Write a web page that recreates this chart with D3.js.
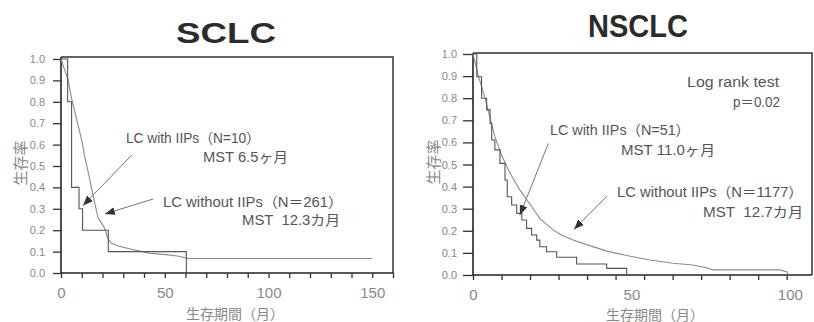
<!DOCTYPE html>
<html><head><meta charset="utf-8">
<script src="https://cdn.jsdelivr.net/npm/d3@7"></script>
<style>
html,body{margin:0;padding:0;background:#fff;}
svg{display:block;}
</style></head>
<body>
<script>
// ---------- data ----------
const panelTitles = ["SCLC", "NSCLC"];
const yTicks = [0, 0.1, 0.2, 0.3, 0.4, 0.5, 0.6, 0.7, 0.8, 0.9, 1.0];
const xMinorTicksSCLC = [0,10,20,30,40,50,60,70,80,90,100,110,120,130,140,150,160];
const xLabelTicksSCLC = [0, 50, 100, 150];
const xMinorTicksNSCLC = [0,9,18,27,36,45,54,63,72,81,90,99];
const xLabelTicksNSCLC = [0, 50, 100];
const yAxisTitle = "生存率";
const xAxisTitle = "生存期間（月）";

// SCLC: LC with IIPs (N=10) – step curve [month, survival]
const sclcWith = [[0,1.0],[3.2,0.8],[5.1,0.4],[8.7,0.3],[10.4,0.2],[22.8,0.1],[60.4,0.0]];
// SCLC: LC without IIPs (N=261)
const sclcWithout = [[0,1.0],[1,0.97],[3.5,0.9],[5,0.82],[7.5,0.72],[10,0.62],[11.5,0.54],[13.6,0.45],
  [15.5,0.36],[17.8,0.26],[21,0.21],[22.6,0.16],[24.2,0.14],[28,0.125],[34.5,0.11],[42.5,0.093],
  [50.6,0.086],[57,0.078],[61,0.068],[150,0.068]];
// NSCLC: LC with IIPs (N=51) – step curve
const nsclcWith = [[0,1.0],[1.2,0.897],[2.7,0.80],[4.3,0.747],[5.4,0.686],[5.9,0.611],[6.9,0.566],
  [8.5,0.505],[10.1,0.43],[10.8,0.354],[12.2,0.317],[13.8,0.279],[15.4,0.249],[16.9,0.211],
  [18.5,0.181],[20.1,0.158],[21.1,0.128],[23.2,0.105],[26.4,0.08],[32.7,0.05],[42.2,0.03],[48.5,0.0]];
// NSCLC: LC without IIPs (N=1177)
const nsclcWithout = [[0,1.0],[1.7,0.9],[3.8,0.8],[5.4,0.71],[6.9,0.626],[9.0,0.543],[11.7,0.46],
  [14.8,0.385],[18,0.32],[21.1,0.255],[25.3,0.204],[28,0.18],[31.6,0.158],[36.9,0.133],[42.2,0.108],
  [48.5,0.088],[55.8,0.068],[63.2,0.053],[69.5,0.045],[73.7,0.033],[75.8,0.023],[96.8,0.023],[99,0.015],[99.4,0.005]];

// annotation texts
const sclcNotes = ["LC with IIPs（N=10）", "MST 6.5ヶ月", "LC without IIPs（N＝261）", "MST  12.3カ月"];
const nsclcNotes = ["Log rank test", "p＝0.02", "LC with IIPs（N=51）", "MST 11.0ヶ月", "LC without IIPs（N＝1177）", "MST  12.7カ月"];

// ---------- layout ----------
const W = 814, H = 322;
const svg = d3.select("body").append("svg").attr("width", W).attr("height", H);

const panels = [
  {
    title: panelTitles[0], titleX: 226, titleY: 43, titleLen: 100, titleSize: 29,
    x: d3.scaleLinear().domain([0,160]).range([61,393]),
    y: d3.scaleLinear().domain([0,1]).range([273,59]),
    boxTop: 57, minor: xMinorTicksSCLC, labels: xLabelTicksSCLC,
    tickLen: 8, yLabelGap: 8, xLabelY: 298,
    yTitle: [19, 163], xTitle: [235, 319],
    withD: sclcWith, withoutD: sclcWithout,
    notes: [
      {t: sclcNotes[0], x: 31.3, y: 0.607, a: "start", w: 134},
      {t: sclcNotes[1], x: 68.4, y: 0.519, a: "start", w: 85},
      {t: sclcNotes[2], x: 135.9, y: 0.308, a: "end", w: 180},
      {t: sclcNotes[3], x: 134.5, y: 0.224, a: "end", w: 98}
    ],
    arrows: [
      {x1: 34.1, y1: 0.551, x2: 10.6, y2: 0.315},
      {x1: 44.5, y1: 0.346, x2: 21.2, y2: 0.276}
    ]
  },
  {
    title: panelTitles[1], titleX: 638, titleY: 37, titleLen: 100, titleSize: 32,
    x: d3.scaleLinear().domain([0,107]).range([473,812]),
    y: d3.scaleLinear().domain([0,1]).range([275,54]),
    boxTop: 53, minor: xMinorTicksNSCLC, labels: xLabelTicksNSCLC,
    tickLen: 10, yLabelGap: 6, xLabelY: 300,
    yTitle: [432, 162], xTitle: [655, 320],
    withD: nsclcWith, withoutD: nsclcWithout,
    notes: [
      {t: nsclcNotes[0], x: 96.6, y: 0.851, a: "end", w: 92},
      {t: nsclcNotes[1], x: 96.9, y: 0.760, a: "end", w: 47},
      {t: nsclcNotes[2], x: 24.3, y: 0.633, a: "start", w: 140},
      {t: nsclcNotes[3], x: 46.7, y: 0.543, a: "start", w: 94},
      {t: nsclcNotes[4], x: 104.2, y: 0.353, a: "end", w: 186},
      {t: nsclcNotes[5], x: 104.2, y: 0.262, a: "end", w: 100}
    ],
    arrows: [
      {x1: 23.8, y1: 0.596, x2: 14.8, y2: 0.271},
      {x1: 42.3, y1: 0.357, x2: 31.9, y2: 0.207}
    ]
  }
];

const defs = svg.append("defs");
defs.append("marker").attr("id","ah").attr("viewBox","0 0 10 10")
  .attr("refX",10).attr("refY",5).attr("markerWidth",10).attr("markerHeight",10)
  .attr("markerUnits","userSpaceOnUse").attr("orient","auto")
  .append("path").attr("d","M0,1 L10,5 L0,9 Z").attr("fill","#333");

const numFont = "'Liberation Sans', Arial, sans-serif";
const cjkFont = "'Noto Sans CJK JP', 'Noto Sans', sans-serif";
const noteFont = "'Liberation Sans', Arial, 'Noto Sans CJK JP', sans-serif";

panels.forEach(p => {
  const g = svg.append("g");
  const [x0, x1] = p.x.range();
  const y0 = p.y(0);

  // title
  g.append("text").attr("x", p.titleX).attr("y", p.titleY)
    .attr("text-anchor","middle")
    .attr("font-family", "'Liberation Sans', Arial, sans-serif")
    .attr("font-weight","bold").attr("font-size", p.titleSize)
    .attr("fill","#2b2b2b")
    .attr("textLength", p.titleLen).attr("lengthAdjust","spacingAndGlyphs")
    .text(p.title);

  // box (top & right)
  g.append("path")
    .attr("d", `M${x0},${p.boxTop}H${x1}V${y0}`)
    .attr("fill","none").attr("stroke","#333").attr("stroke-width",1.5);

  // y axis
  const yAx = g.append("g").attr("transform",`translate(${x0},0)`)
    .call(d3.axisLeft(p.y).tickValues(yTicks).tickFormat(d3.format(".1f"))
      .tickSizeInner(p.tickLen).tickSizeOuter(0).tickPadding(p.yLabelGap));
  yAx.select(".domain").attr("d", `M0,${p.boxTop}V${y0}`).attr("stroke","#222").attr("stroke-width",1.6);
  yAx.selectAll(".tick line").attr("stroke","#333").attr("stroke-width",1.3);
  yAx.selectAll(".tick text").attr("fill","#888").attr("font-size",11).attr("font-family",numFont);

  // x axis minor ticks
  const xAx = g.append("g").attr("transform",`translate(0,${y0})`)
    .call(d3.axisBottom(p.x).tickValues(p.minor).tickFormat("").tickSizeInner(5).tickSizeOuter(0));
  xAx.select(".domain").attr("d", `M${x0},0H${x1}`).attr("stroke","#222").attr("stroke-width",1.6);
  xAx.selectAll(".tick line").attr("stroke","#333").attr("stroke-width",1.3);

  // x axis labels
  const xLab = g.append("g").attr("transform",`translate(0,${p.xLabelY})`)
    .call(d3.axisBottom(p.x).tickValues(p.labels).tickSize(0).tickPadding(0));
  xLab.select(".domain").remove();
  xLab.selectAll(".tick text").attr("dy", 0).attr("fill","#888").attr("font-size",15).attr("font-family",numFont);

  // axis titles
  g.append("text").attr("transform",`translate(${p.yTitle[0]},${p.yTitle[1]}) rotate(-90)`)
    .attr("text-anchor","middle").attr("dominant-baseline","central")
    .attr("font-family",cjkFont).attr("font-size",15).attr("fill","#888")
    .text(yAxisTitle);
  g.append("text").attr("x",p.xTitle[0]).attr("y",p.xTitle[1])
    .attr("text-anchor","middle")
    .attr("font-family",noteFont).attr("font-size",14).attr("fill","#888")
    .text(xAxisTitle);

  // curves
  const lineLin = d3.line().x(d => p.x(d[0])).y(d => p.y(d[1]));
  const lineStep = d3.line().x(d => p.x(d[0])).y(d => p.y(d[1])).curve(d3.curveStepAfter);
  g.append("path").datum(p.withoutD).attr("d", lineLin)
    .attr("fill","none").attr("stroke","#8a8a8a").attr("stroke-width",1.1);
  g.append("path").datum(p.withD).attr("d", lineStep)
    .attr("fill","none").attr("stroke","#555").attr("stroke-width",1.1);

  // annotations
  g.selectAll("text.note").data(p.notes).enter().append("text").attr("class","note")
    .attr("x", d => p.x(d.x)).attr("y", d => p.y(d.y))
    .attr("text-anchor", d => d.a)
    .attr("font-family", noteFont).attr("font-size", 14).attr("fill","#555")
    .attr("textLength", d => d.w).attr("lengthAdjust","spacingAndGlyphs")
    .style("white-space","pre")
    .text(d => d.t);

  g.selectAll("line.arrow").data(p.arrows).enter().append("line").attr("class","arrow")
    .attr("x1", d => p.x(d.x1)).attr("y1", d => p.y(d.y1))
    .attr("x2", d => p.x(d.x2)).attr("y2", d => p.y(d.y2))
    .attr("stroke","#777").attr("stroke-width",1)
    .attr("marker-end","url(#ah)");
});
</script>
</body></html>
